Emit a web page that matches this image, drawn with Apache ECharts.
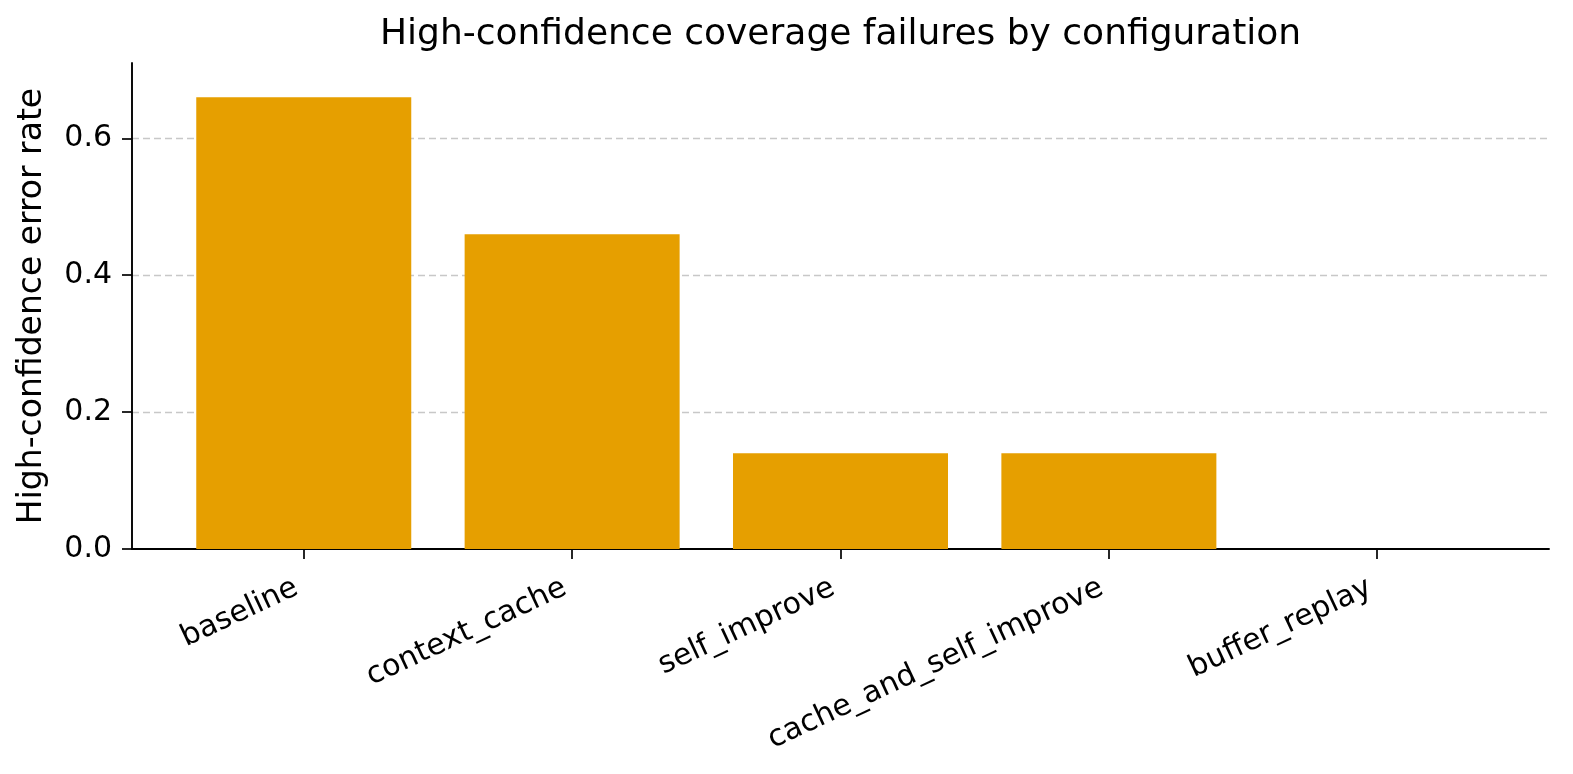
<!DOCTYPE html>
<html><head><meta charset="utf-8">
<script src="https://cdn.jsdelivr.net/npm/echarts@6/dist/echarts.min.js"></script>
<style>html,body{margin:0;padding:0;background:#fff}#c{width:1573px;height:774px}</style>
</head><body><div id="c"></div>
<script>
const categories = ['baseline','context_cache','self_improve','cache_and_self_improve','buffer_replay'];
const errorRates = [0.66, 0.46, 0.14, 0.14, 0.0];
const yTicks = [0, 0.2, 0.4, 0.6];
const positions = categories.map((_, i) => i);

const chart = echarts.init(document.getElementById('c'), null, {renderer:'canvas'});
const FONT = 'DejaVu Sans';
chart.setOption({
  animation:false,
  title: {text:'High-confidence coverage failures by configuration', left: 380, top: 17, padding:0,
    textStyle:{fontFamily:FONT, fontSize:36, fontWeight:'normal', color:'#000'}},
  grid:{left:132, right:24, top:63, bottom:225, containLabel:false},
  xAxis:{type:'value', min:-0.64, max:4.64,
    axisLine:{show:true, onZero:false, lineStyle:{color:'#000', width:1.9}},
    axisTick:{show:true, customValues: positions, length:10, lineStyle:{color:'#000', width:1.7}},
    axisLabel:{customValues: positions, formatter: v => categories[Math.round(v)], rotate:25,
      fontFamily:FONT, fontSize:30, color:'#000', margin:34, padding:[0,8,0,0]},
    splitLine:{show:false}},
  yAxis:{type:'value', min:0, max:0.71, interval:0.2,
    name:'High-confidence error rate', nameLocation:'middle', nameGap:83,
    nameTextStyle:{fontFamily:FONT, fontSize:33, color:'#000'},
    axisLine:{show:true, onZero:false, lineStyle:{color:'#000', width:1.9}},
    axisTick:{show:true, customValues:yTicks, length:10, lineStyle:{color:'#000', width:1.7}},
    axisLabel:{customValues:yTicks, formatter: v=>v.toFixed(1), fontFamily:FONT, fontSize:30, color:'#000', margin:20},
    splitLine:{show:true, showMinLine:false, showMaxLine:true, lineStyle:{color:'#c8c8c8', width:1.4, type:[7,4]}}},
  series:[{type:'bar', data: positions.map((p,i)=>[p, errorRates[i]]), barWidth:215, itemStyle:{color:'#E69F00'}, silent:true}]
});
</script></body></html>
